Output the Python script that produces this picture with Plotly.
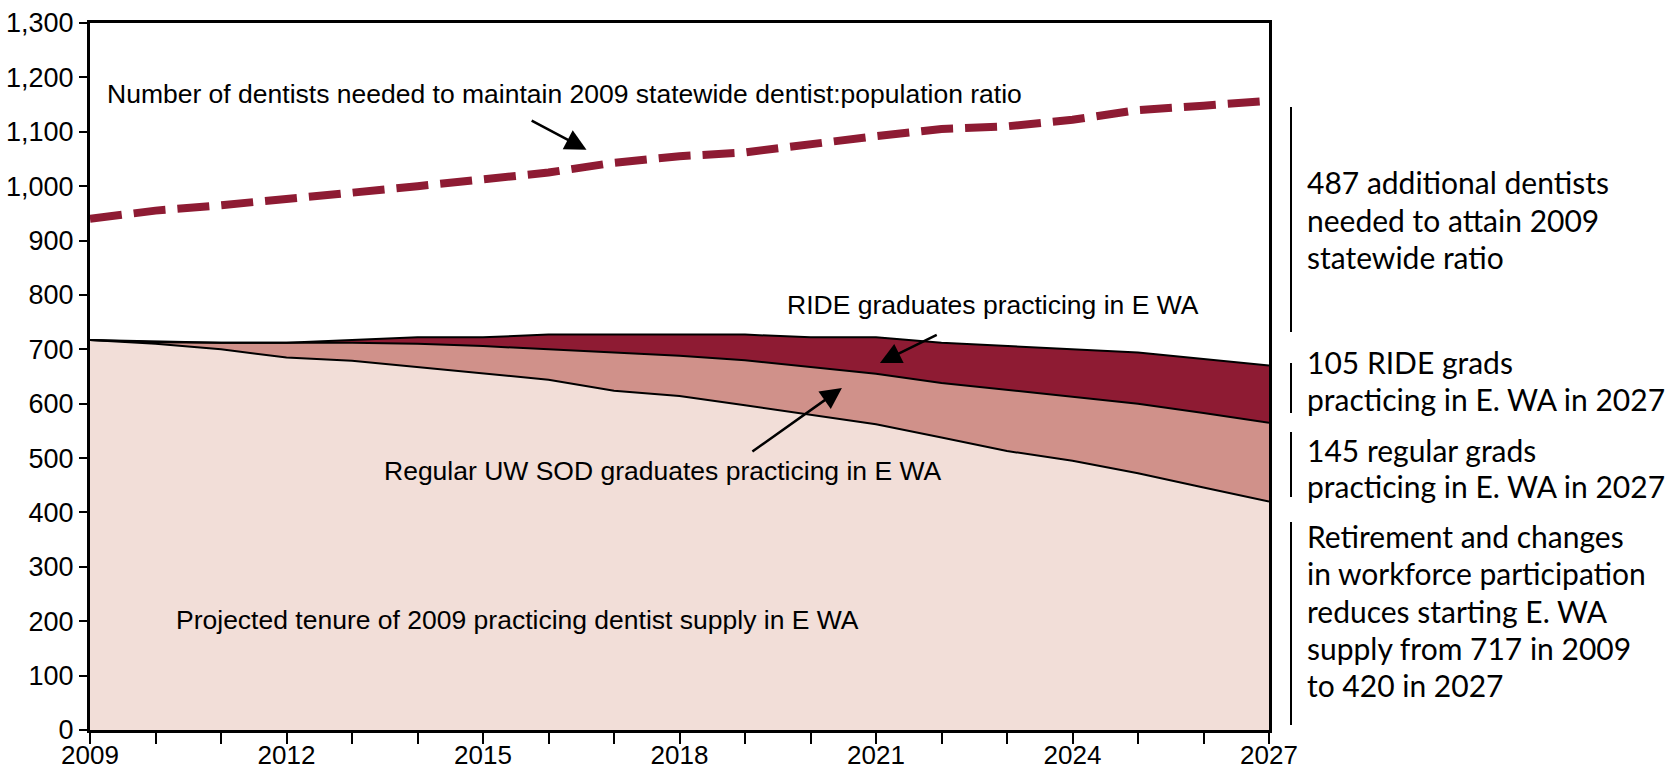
import plotly.graph_objects as go

years = list(range(2009, 2028))
tenure_2009_supply = [717, 710, 700, 685, 679, 667, 656, 644, 624, 614, 597, 579, 562, 538, 513, 495, 472, 446, 420]
regular_grads = [0, 3, 12, 27, 33, 43, 50, 56, 70, 74, 83, 89, 93, 100, 112, 117, 128, 137, 145]
ride_grads = [0, 2, 0, 0, 5, 12, 16, 27, 33, 39, 47, 54, 67, 74, 81, 88, 94, 99, 105]
dentists_needed = [940, 955, 965, 978, 988, 1000, 1013, 1025, 1043, 1055, 1062, 1078, 1092, 1105, 1110, 1122, 1140, 1148, 1157]
x_tick_labels = [str(y) if (y - 2009) % 3 == 0 else "" for y in years]

W, H = 1671, 770
L, R, T, B = 90, 1269, 23, 730


def px_x(p):
    return (p - L) / (R - L)


def px_y(p):
    return (B - p) / (B - T)


fig = go.Figure()
fig.add_trace(go.Scatter(x=years, y=tenure_2009_supply, stackgroup="s", mode="lines",
                         line=dict(color="black", width=2), fillcolor="#F2DED8",
                         name="Projected tenure of 2009 supply"))
fig.add_trace(go.Scatter(x=years, y=regular_grads, stackgroup="s", mode="lines",
                         line=dict(color="black", width=2), fillcolor="#D0918A",
                         name="Regular UW SOD graduates"))
fig.add_trace(go.Scatter(x=years, y=ride_grads, stackgroup="s", mode="lines",
                         line=dict(color="black", width=2), fillcolor="#8E1B33",
                         name="RIDE graduates"))
fig.add_trace(go.Scatter(x=years, y=dentists_needed, mode="lines",
                         line=dict(color="#8E1B33", width=8, dash="32px,12px"),
                         name="Dentists needed"))

FAM = "Liberation Sans, Arial, sans-serif"
fnt = dict(family=FAM, size=26.5, color="black")
ann = []
ann.append(dict(x=2016.24, y=1170, text="Number of dentists needed to maintain 2009 statewide dentist:population ratio",
                showarrow=False, font=fnt, xref="x", yref="y"))
ann.append(dict(x=2022.79, y=782, text="RIDE graduates practicing in E WA",
                showarrow=False, font=fnt, xref="x", yref="y"))
ann.append(dict(x=2017.75, y=476, text="Regular UW SOD graduates practicing in E WA",
                showarrow=False, font=fnt, xref="x", yref="y"))
ann.append(dict(x=2015.52, y=202, text="Projected tenure of 2009 practicing dentist supply in E WA",
                showarrow=False, font=fnt, xref="x", yref="y"))

# arrows
for (hx, hy, tx, ty) in [(2016.58, 1067, 2015.72, 1122),
                         (2021.06, 675, 2021.95, 728),
                         (2020.48, 629, 2019.09, 510)]:
    ann.append(dict(x=hx, y=hy, ax=tx, ay=ty, xref="x", yref="y", axref="x", ayref="y",
                    text="", showarrow=True, arrowhead=2, arrowsize=1.7, arrowwidth=2.5,
                    arrowcolor="black"))

# right-side notes
rfnt = dict(family="Lato, Open Sans, sans-serif", size=30, color="black")
blocks = [
    (["487 additional dentists", "needed to attain 2009", "statewide ratio"], [182, 220, 257]),
    (["105 RIDE grads", "practicing in E. WA in 2027"], [362, 399]),
    (["145 regular grads", "practicing in E. WA in 2027"], [450, 486]),
    (["Retirement and changes", "in workforce participation", "reduces starting E. WA",
      "supply from 717 in 2009", "to 420 in 2027"], [536, 573, 611, 648, 685]),
]
for lines, centers in blocks:
    for txt, cy in zip(lines, centers):
        ann.append(dict(x=px_x(1305), y=px_y(cy), xref="paper", yref="paper",
                        text=txt, showarrow=False, font=rfnt, xanchor="left", yanchor="middle"))

shapes = []
for (y0, y1) in [(107, 332), (363, 413), (432, 497), (522, 725)]:
    shapes.append(dict(type="line", xref="paper", yref="paper", x0=px_x(1291), x1=px_x(1291),
                       y0=px_y(y0), y1=px_y(y1), line=dict(color="black", width=2)))

fig.update_layout(
    width=W, height=H,
    margin=dict(l=L, r=W - R, t=T, b=H - B, autoexpand=False),
    paper_bgcolor="white", plot_bgcolor="white",
    showlegend=False,
    annotations=ann, shapes=shapes,
    font=fnt,
)
fig.update_xaxes(range=[2009, 2027], tickvals=years, ticktext=x_tick_labels, automargin=False,
                 showgrid=False, zeroline=False, showline=True, linecolor="black", linewidth=3,
                 mirror=True, ticks="outside", ticklen=11, tickwidth=2, tickcolor="black",
                 tickfont=dict(family=FAM, size=26, color="black"), ticklabelstandoff=-11)
fig.update_yaxes(range=[0, 1300], dtick=100, tickformat=",", automargin=False,
                 showgrid=False, zeroline=False, showline=True, linecolor="black", linewidth=3,
                 mirror=True, ticks="outside", ticklen=8, tickwidth=2, tickcolor="black",
                 tickfont=dict(family=FAM, size=27, color="black"))

fig.write_html("out.html", config={"displayModeBar": False},
               post_script="document.body.style.margin='0';document.body.style.overflow='hidden';")
